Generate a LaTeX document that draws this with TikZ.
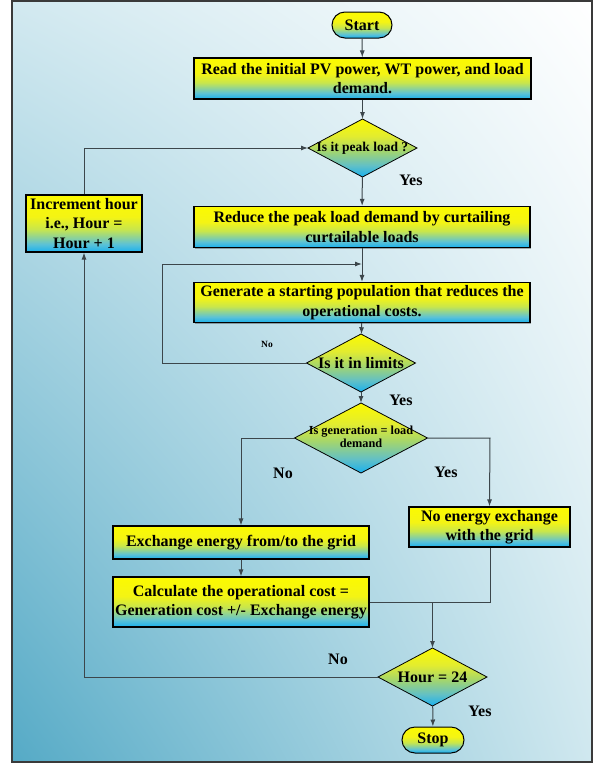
\documentclass[tikz,border=0pt]{standalone}
\usepackage{fontspec}
\setmainfont{Liberation Serif}
\usetikzlibrary{shapes.geometric,arrows.meta,shadings,shadows}
\definecolor{bgLL}{HTML}{55AAC6}
\definecolor{bgUL}{HTML}{D2E9F0}
\definecolor{bgLR}{HTML}{D0E8EF}
\definecolor{gA}{HTML}{18B0EE}
\definecolor{gB}{HTML}{5CC2D6}
\definecolor{gC}{HTML}{C8E64C}
\definecolor{gD}{HTML}{F4F414}
\definecolor{gE}{HTML}{FCFA00}
\definecolor{dA}{HTML}{18B0EE}
\definecolor{dB}{HTML}{62C0C6}
\definecolor{dC}{HTML}{A6D66A}
\definecolor{dD}{HTML}{E2EC30}
\definecolor{dE}{HTML}{FCFA00}
\definecolor{linec}{HTML}{3C464B}
\pgfdeclareverticalshading{boxgrad}{100bp}{color(0bp)=(gA); color(25bp)=(gA); color(32bp)=(gB); color(45bp)=(gC); color(56bp)=(gD); color(75bp)=(gE); color(100bp)=(gE)}
\pgfdeclareverticalshading{diagrad}{100bp}{color(0bp)=(dA); color(25bp)=(dA); color(35bp)=(dB); color(48bp)=(dC); color(60bp)=(dD); color(75bp)=(dE); color(100bp)=(dE)}
\tikzset{
  procbox/.style={rectangle, draw=black, line width=1.1pt, shading=boxgrad, align=center, inner sep=0pt,
    drop shadow={shadow xshift=0.6pt, shadow yshift=-1.2pt, fill=black, opacity=0.3},
    font=\fontsize{16}{19.5}\selectfont\bfseries},
  termbox/.style={rectangle, rounded corners=13pt, draw=black, line width=1pt, shading=boxgrad, inner sep=0pt,
    minimum height=26pt, font=\fontsize{16}{19.5}\selectfont\bfseries},
  decbox/.style={diamond, draw=black, line width=0.8pt, shading=diagrad, inner sep=0pt, outer sep=0pt, align=center},
  conn/.style={draw=linec, line width=1pt},
  arr/.style={conn, -{Latex[length=7pt,width=5pt]}},
  lbl/.style={font=\fontsize{16}{18}\selectfont\bfseries, inner sep=0pt},
  smlbl/.style={font=\fontsize{9.5}{11}\selectfont\bfseries, inner sep=0pt}
}
\begin{document}
\begin{tikzpicture}[x=1pt,y=-1pt]
\useasboundingbox (0,0) rectangle (593,764);
\fill[white] (0,0) rectangle (593,764);
\shade[lower left=bgLL, upper left=bgUL, lower right=bgLR, upper right=white] (12,1) rectangle (592,762);
\draw[line width=2.5pt, draw={rgb,255:red,58;green,58;blue,58}] (12,1) rectangle (592,762);

% nodes
\node[termbox, minimum width=60pt] (start) at (362,25) {Start};
\node[procbox, minimum width=337pt, minimum height=41pt] (read) at (362.5,78.5) {Read the initial PV power, WT power, and load\\demand.};
\node[decbox, minimum width=109pt, minimum height=58pt] (peak) at (362.5,148) {\makebox[0pt]{\fontsize{13.5}{15}\selectfont\bfseries Is it peak load ?}};
\node[procbox, minimum width=336pt, minimum height=41pt] (reduce) at (362,227) {Reduce the peak load demand by curtailing\\curtailable loads};
\node[procbox, minimum width=336pt, minimum height=40pt] (genpop) at (362,302.5) {Generate a starting population that reduces the\\operational costs.};
\node[decbox, minimum width=109pt, minimum height=58pt] (limits) at (361,363) {\makebox[0pt]{\fontsize{16}{17}\selectfont\bfseries Is it in limits}};
\node[decbox, minimum width=133pt, minimum height=70pt] (gen) at (361,438) {\makebox[0pt]{\fontsize{12.3}{14.5}\selectfont\bfseries\begin{tabular}{@{}c@{}}Is generation = load\\[-1pt] demand\end{tabular}}};
\node[procbox, minimum width=161pt, minimum height=40pt] (noex) at (489.5,527) {No energy exchange\\with the grid};
\node[procbox, minimum width=256pt, minimum height=33pt] (exch) at (241,542.5) {Exchange energy from/to the grid};
\node[procbox, minimum width=256pt, minimum height=50pt] (calc) at (241,602) {Calculate the operational cost =\\Generation cost +/- Exchange energy};
\node[decbox, minimum width=109pt, minimum height=58pt] (hour) at (432.5,677) {\makebox[0pt]{\fontsize{16}{17}\selectfont\bfseries Hour = 24}};
\node[termbox, minimum width=62pt] (stop) at (433,740) {Stop};
\node[procbox, minimum width=116pt, minimum height=57pt] (incr) at (84,223.5) {Increment hour\\i.e., Hour =\\Hour + 1};

% helper coordinates
\coordinate (loopin) at (362,264);
\coordinate (loopL) at (162,264);
\coordinate (limL) at (162,363);
\coordinate (genL) at (241,438);
\coordinate (genR) at (490,438);
\coordinate (noexB) at (490,602);
\coordinate (join) at (432.5,602);
\coordinate (hourL) at (84,677);
\coordinate (incrT) at (84,148);

% connectors
\draw[arr] (start) -- (read);
\draw[arr] (read) -- (peak);
\draw[arr] (peak) -- (reduce);
\draw[arr] (reduce) -- (genpop);
\draw[arr] (limits.west) -- (limL) -- (loopL) -- (loopin);
\draw[arr] (genpop) -- (limits);
\draw[arr] (limits) -- (gen);
\draw[arr] (gen.west) -- (genL) -- (exch.north);
\draw[arr] (gen.east) -- (genR) -- (noex.north);
\draw[arr] (exch) -- (calc);
\draw[conn] (noex.south -| noexB) -- (noexB) -- (calc.east);
\draw[arr] (join) -- (hour.north);
\draw[arr] (hour.west) -- (hourL) -- (incr.south);
\draw[arr] (hour) -- (stop);
\draw[arr] (incr.north) -- (incrT) -- (peak.west);

% labels
\node[lbl] (y1) at (411,180) {Yes};
\node[smlbl] (n1) at (267,344) {No};
\node[lbl] (y2) at (401,400) {Yes};
\node[lbl] (n2) at (283,473) {No};
\node[lbl] (y3) at (446,472) {Yes};
\node[lbl] (n3) at (338,659) {No};
\node[lbl] (y4) at (480,711) {Yes};
\end{tikzpicture}
\end{document}
